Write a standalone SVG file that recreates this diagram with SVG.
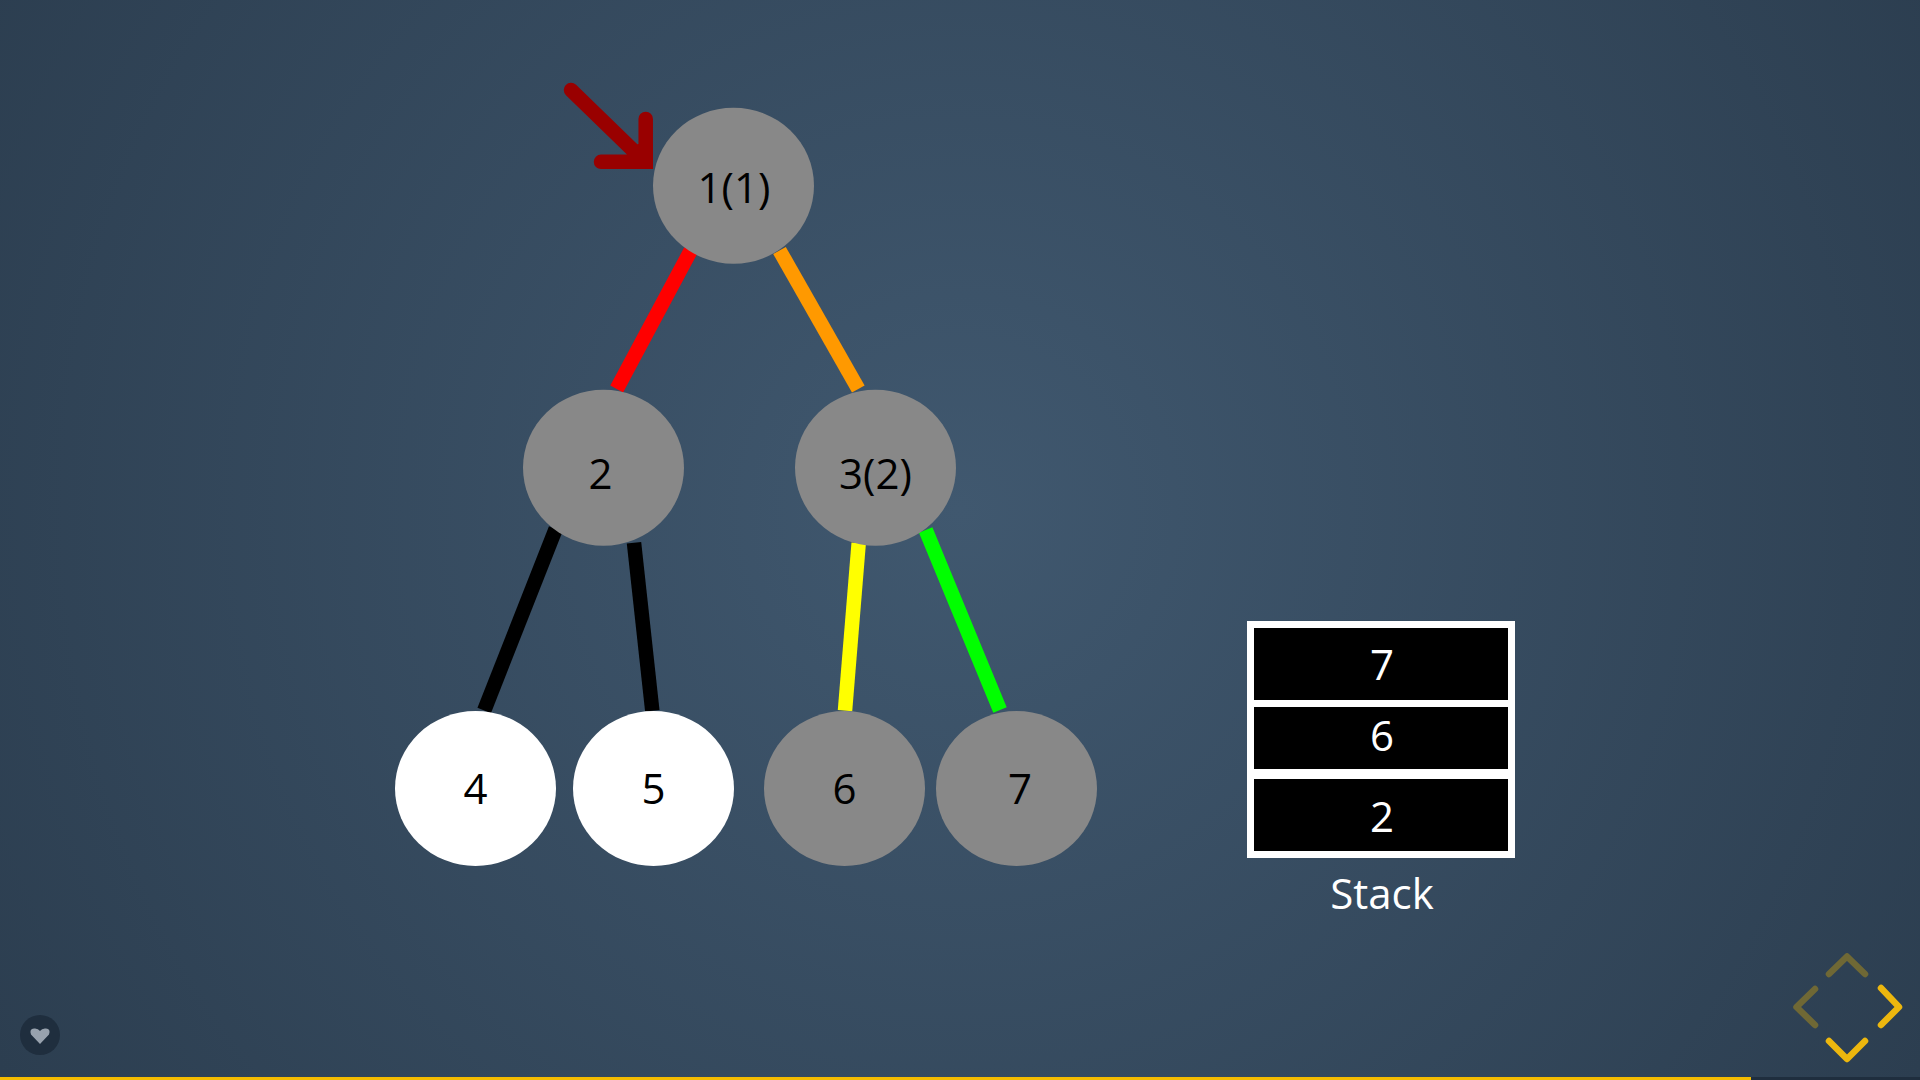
<svg xmlns="http://www.w3.org/2000/svg" width="1920" height="1080" viewBox="0 0 1920 1080">
<style>
.n{fill:#888888}.w{fill:#ffffff}
text{font-family:"Open Sans","Noto Sans","DejaVu Sans",sans-serif;font-size:42px;text-anchor:middle}
.d{fill:#000000}.l{fill:#ffffff}
.c line{stroke-width:14.500;fill:none}
.nav{fill:none;stroke-width:6.500;stroke-linecap:round;stroke-linejoin:round}
</style>
<defs><radialGradient id="bg" gradientUnits="userSpaceOnUse" cx="960" cy="510" r="1110"><stop offset="0" stop-color="#40586f"/><stop offset="1" stop-color="#2c3e50"/></radialGradient></defs>
<rect width="1920" height="1080" fill="url(#bg)"/>
<g id="connectors" class="c">
<line x1="690.700" y1="250.700" x2="616.700" y2="389" stroke="#ff0000"/>
<line x1="779.500" y1="250.500" x2="858.300" y2="389" stroke="#ff9900"/>
<line x1="555.700" y1="529" x2="484.200" y2="710.500" stroke="#000000"/>
<line x1="634" y1="542.700" x2="652.300" y2="710.700" stroke="#000000"/>
<line x1="858.700" y1="543" x2="845" y2="710.700" stroke="#ffff00"/>
<line x1="925.700" y1="530" x2="1000" y2="710" stroke="#00ff00"/>
</g>
<g id="pointer"><path d="M571 90L640 157M645.700 119V160M601 161.800H640" fill="none" stroke="#990000" stroke-width="14.500" stroke-linecap="round"/><path d="M627 155L638 144H653V169H627Z" fill="#990000"/></g>
<g id="n1"><ellipse class="n" cx="733.500" cy="185.700" rx="80.500" ry="78"/><text class="d" x="734" y="203">1(1)</text></g>
<g id="n2"><ellipse class="n" cx="603.500" cy="467.700" rx="80.500" ry="78"/><text class="d" x="600.500" y="489">2</text></g>
<g id="n3"><ellipse class="n" cx="875.500" cy="467.700" rx="80.500" ry="78"/><text class="d" x="875.500" y="489">3(2)</text></g>
<g id="n4"><ellipse class="w" cx="475.500" cy="788.500" rx="80.500" ry="77.500"/><text class="d" x="475.500" y="804">4</text></g>
<g id="n5"><ellipse class="w" cx="653.500" cy="788.500" rx="80.500" ry="77.500"/><text class="d" x="653.500" y="804">5</text></g>
<g id="n6"><ellipse class="n" cx="844.500" cy="788.500" rx="80.500" ry="77.500"/><text class="d" x="844.500" y="804">6</text></g>
<g id="n7"><ellipse class="n" cx="1016.500" cy="788.500" rx="80.500" ry="77.500"/><text class="d" x="1020" y="804">7</text></g>
<g id="stack">
<rect x="1247" y="621" width="268" height="237" fill="#ffffff"/>
<rect x="1254" y="628" width="254" height="72"/>
<rect x="1254" y="707" width="254" height="62"/>
<rect x="1254" y="779" width="254" height="72"/>
<text class="l" x="1382" y="680">7</text>
<text class="l" x="1382" y="751">6</text>
<text class="l" x="1382" y="832">2</text>
<text class="l" x="1382" y="909">Stack</text>
</g>
<g id="controls">
<path class="nav" stroke="#6f6835" d="M1829 974L1847 956.500L1865 974M1815 989L1796.500 1007L1815 1025"/>
<path class="nav" stroke="#edb70e" d="M1881 988L1899 1007L1881 1025M1829 1041L1847 1059L1865 1041"/>
</g>
<g id="like"><circle cx="40" cy="1035" r="20" fill="#1f2e3e"/><path d="M40 1044L31 1034.500Q29 1029 34 1028.500Q38 1028 40 1031Q42 1028 46 1028.500Q51 1029 49 1034.500Z" fill="#98a2ae"/></g>
<rect x="0" y="1077" width="1920" height="3" fill="#1f2e3e"/>
<rect x="0" y="1077" width="1751" height="3" fill="#f5bc00"/>
</svg>
